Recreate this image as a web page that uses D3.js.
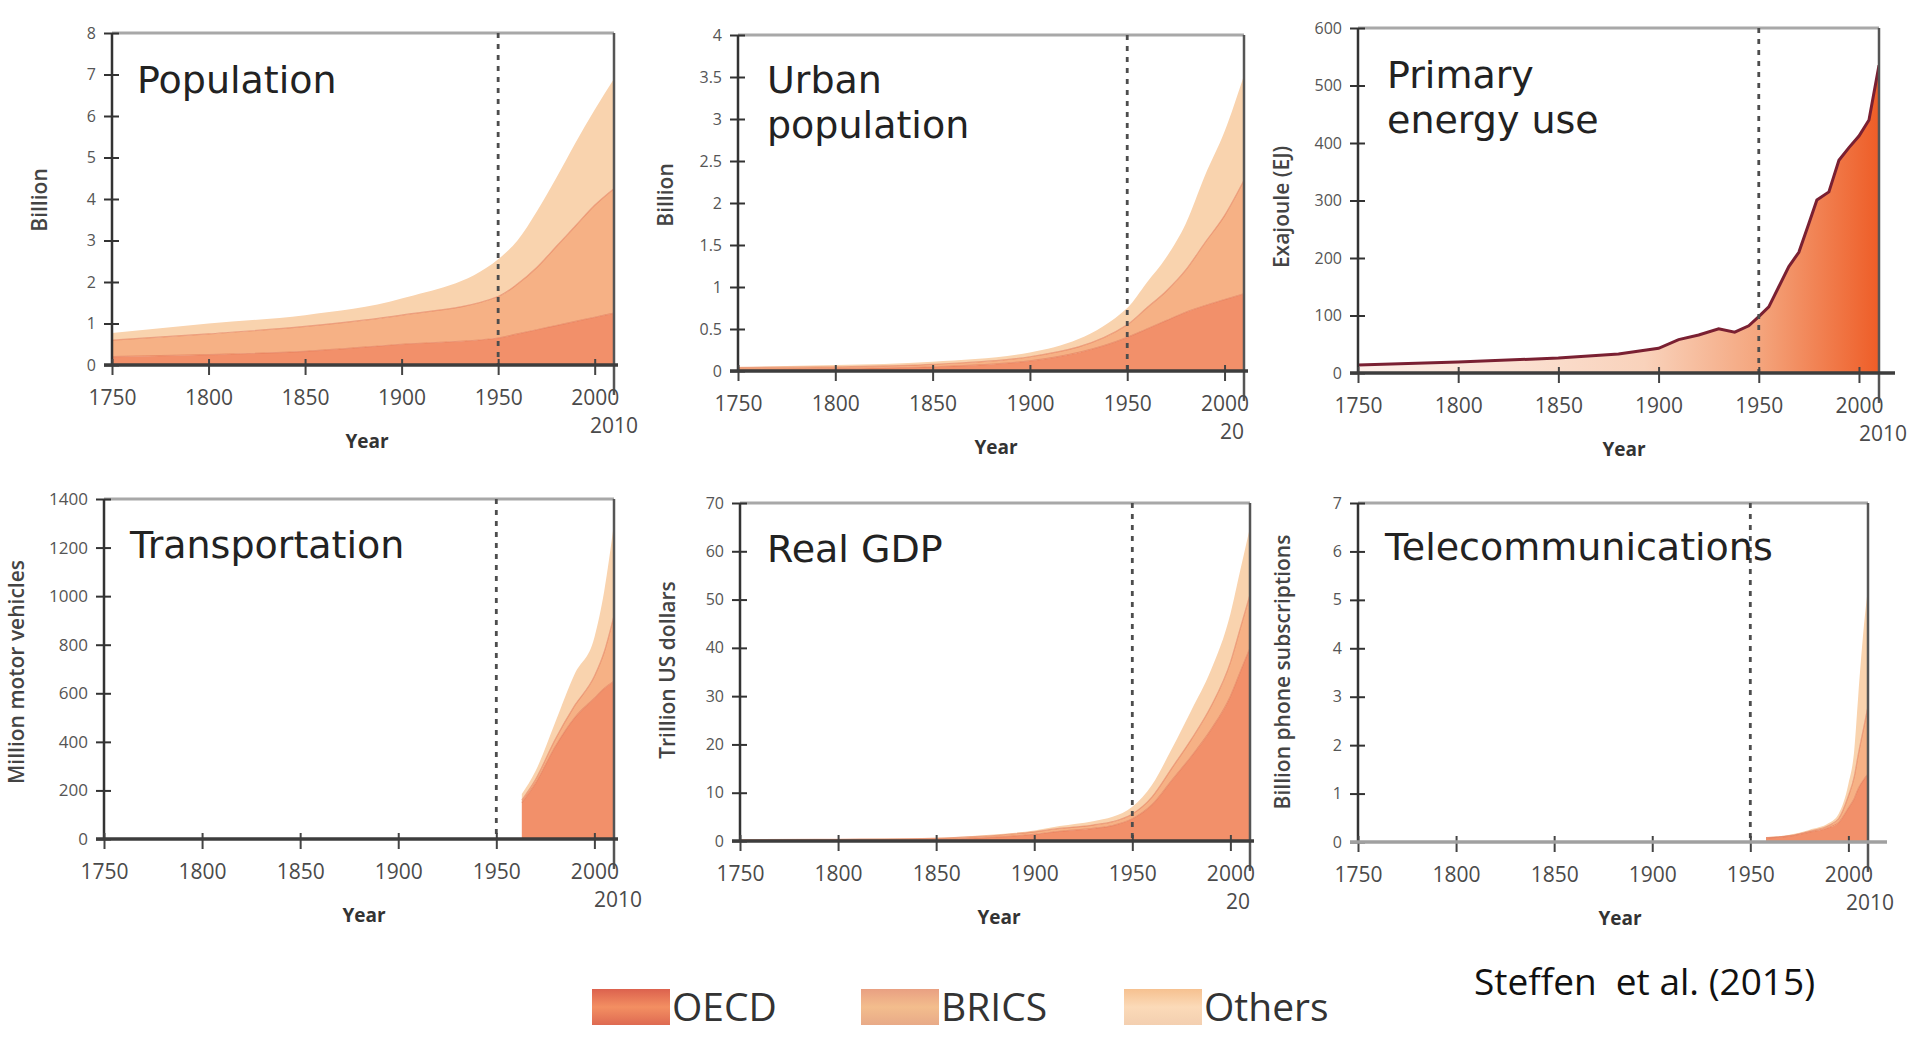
<!DOCTYPE html>
<html>
<head>
<meta charset="utf-8">
<script src="https://cdn.jsdelivr.net/npm/d3@7"></script>
<style>
  body { margin: 0; background: #fff; }
  svg { display: block; }
  text { font-family: "Open Sans", "Noto Sans", sans-serif; }
  text.title { font-family: "DejaVu Sans", sans-serif; }
</style>
</head>
<body>
<div id="chart"></div>
<script>
var xTicks = [1750, 1800, 1850, 1900, 1950, 2000];
var groups = ["OECD", "BRICS", "Others"];

// Population, billion
var popYears  = [1750, 1800, 1850, 1900, 1950, 1960, 1970, 1980, 1990, 2000, 2010];
var popOECD   = [0.20, 0.25, 0.33, 0.50, 0.65, 0.75, 0.85, 0.95, 1.05, 1.15, 1.25];
var popBRICS  = [0.40, 0.50, 0.60, 0.70, 1.00, 1.20, 1.50, 1.90, 2.30, 2.70, 3.00];
var popOthers = [0.17, 0.25, 0.27, 0.40, 0.90, 1.05, 1.35, 1.65, 2.00, 2.30, 2.65];
var popTicks  = [0, 1, 2, 3, 4, 5, 6, 7, 8];

// Urban population, billion
var urbYears  = [1750, 1800, 1850, 1900, 1950, 1960, 1970, 1980, 1990, 2000, 2010];
var urbOECD   = [0.02, 0.03, 0.05, 0.12, 0.40, 0.50, 0.60, 0.70, 0.78, 0.85, 0.92];
var urbBRICS  = [0.02, 0.02, 0.03, 0.05, 0.15, 0.25, 0.35, 0.50, 0.75, 1.00, 1.35];
var urbOthers = [0.01, 0.02, 0.03, 0.05, 0.20, 0.30, 0.40, 0.55, 0.80, 1.00, 1.25];
var urbTicks  = [0, 0.5, 1, 1.5, 2, 2.5, 3, 3.5, 4];

// Primary energy use, EJ
var enYears = [1750, 1800, 1850, 1880, 1900, 1910, 1920, 1930, 1938, 1945, 1950, 1955, 1960, 1965, 1970, 1975, 1979, 1985, 1990, 1995, 2000, 2005, 2010];
var enVals  = [14, 19, 26, 33, 43, 58, 66, 77, 71, 82, 98, 115, 150, 185, 210, 260, 301, 315, 370, 392, 412, 440, 535];
var enTicks = [0, 100, 200, 300, 400, 500, 600];

// Transportation, million motor vehicles
var trYears  = [1963, 1970, 1980, 1990, 2000, 2005, 2010];
var trOECD   = [150, 230, 380, 500, 580, 620, 650];
var trBRICS  = [10, 15, 30, 50, 90, 150, 270];
var trOthers = [25, 35, 70, 130, 160, 250, 380];
var trTicks  = [0, 200, 400, 600, 800, 1000, 1200, 1400];

// Real GDP, trillion US dollars
var gdpYears  = [1750, 1800, 1850, 1870, 1900, 1913, 1930, 1940, 1950, 1960, 1970, 1980, 1990, 2000, 2005, 2010];
var gdpOECD   = [0.10, 0.15, 0.30, 0.60, 1.4, 2.0, 2.6, 3.2, 4.6, 7.5, 12.5, 17.5, 23, 30, 35, 40];
var gdpBRICS  = [0.15, 0.20, 0.25, 0.30, 0.5, 0.6, 0.7, 0.8, 1.0, 1.6, 2.5, 3.5, 4.8, 7, 9, 11];
var gdpOthers = [0.05, 0.05, 0.10, 0.20, 0.3, 0.5, 0.8, 1.0, 1.5, 2.5, 4.0, 6.0, 7.5, 10, 12, 14];
var gdpTicks  = [0, 10, 20, 30, 40, 50, 60, 70];

// Telecommunications, billion phone subscriptions
var telYears  = [1958, 1970, 1980, 1990, 1995, 2000, 2003, 2005, 2008, 2010];
var telOECD   = [0.08, 0.12, 0.20, 0.30, 0.40, 0.70, 0.90, 1.10, 1.30, 1.40];
var telBRICS  = [0.01, 0.01, 0.02, 0.04, 0.08, 0.25, 0.45, 0.70, 1.10, 1.40];
var telOthers = [0.01, 0.02, 0.03, 0.05, 0.10, 0.25, 0.55, 1.20, 2.10, 2.45];
var telTicks  = [0, 1, 2, 3, 4, 5, 6, 7];

var colors = { OECD: "#f2906a", BRICS: "#f6b185", Others: "#f9d3ae" };

var svg = d3.select("#chart").append("svg")
    .attr("width", 1915)
    .attr("height", 1041);

var defs = svg.append("defs");

function rows(years, a, b, c) {
    return years.map(function (yr, i) {
        return { year: yr, OECD: a[i], BRICS: b[i], Others: c[i] };
    });
}

function drawPanel(p) {
    var x = d3.scaleLinear().domain([1750, 2010]).range([p.left, p.right]);
    var y = d3.scaleLinear().domain([0, p.ymax]).range([p.zero, p.top]);
    var g = svg.append("g");

    var clipId = "clip" + p.id;
    defs.append("clipPath").attr("id", clipId)
        .append("rect")
        .attr("x", p.left).attr("y", p.top)
        .attr("width", p.right - p.left).attr("height", p.zero - p.top);

    var plot = g.append("g").attr("clip-path", "url(#" + clipId + ")");

    if (p.stack) {
        var series = d3.stack().keys(groups)(p.stack);
        var area = d3.area()
            .curve(d3.curveMonotoneX)
            .x(function (d) { return x(d.data.year); })
            .y0(function (d) { return y(d[0]); })
            .y1(function (d) { return y(d[1]); });
        plot.selectAll("path.layer")
            .data(series)
            .enter().append("path")
            .attr("class", "layer")
            .attr("fill", function (d) { return colors[d.key]; })
            .attr("d", area);
        // thin boundaries between the groups
        var edge = d3.line()
            .curve(d3.curveMonotoneX)
            .x(function (d) { return x(d.data.year); })
            .y(function (d) { return y(d[1]); });
        plot.selectAll("path.edge")
            .data(series.slice(0, 2))
            .enter().append("path")
            .attr("class", "edge")
            .attr("fill", "none")
            .attr("stroke", "#e27a58")
            .attr("stroke-opacity", 0.6)
            .attr("stroke-width", 1.2)
            .attr("d", edge);
    }

    if (p.line) {
        var gradId = "grad" + p.id;
        var grad = defs.append("linearGradient").attr("id", gradId)
            .attr("gradientUnits", "userSpaceOnUse")
            .attr("x1", x(1750)).attr("x2", x(2010)).attr("y1", 0).attr("y2", 0);
        grad.append("stop").attr("offset", "0%").attr("stop-color", "#fdf1ec");
        grad.append("stop").attr("offset", "55%").attr("stop-color", "#f9d2bb");
        grad.append("stop").attr("offset", "77%").attr("stop-color", "#f4a57d");
        grad.append("stop").attr("offset", "100%").attr("stop-color", "#ee5d27");
        var data = p.line.years.map(function (yr, i) { return { year: yr, v: p.line.vals[i] }; });
        plot.append("path")
            .datum(data)
            .attr("fill", "url(#" + gradId + ")")
            .attr("d", d3.area()
                .x(function (d) { return x(d.year); })
                .y0(y(0))
                .y1(function (d) { return y(d.v); }));
        plot.append("path")
            .datum(data)
            .attr("fill", "none")
            .attr("stroke", "#7a2032")
            .attr("stroke-width", 3)
            .attr("d", d3.line()
                .x(function (d) { return x(d.year); })
                .y(function (d) { return y(d.v); }));
    }

    // frame
    g.append("line")
        .attr("x1", p.left).attr("x2", p.right)
        .attr("y1", p.top).attr("y2", p.top)
        .attr("stroke", "#a8a8a8").attr("stroke-width", 3);
    g.append("line")
        .attr("x1", p.right).attr("x2", p.right)
        .attr("y1", p.top).attr("y2", p.zero + 30)
        .attr("stroke", "#555").attr("stroke-width", 2.5);

    // 1950 marker
    g.append("line")
        .attr("x1", x(1950)).attr("x2", x(1950))
        .attr("y1", p.top).attr("y2", p.zero)
        .attr("stroke", "#4d4d4d")
        .attr("stroke-width", 2.8)
        .attr("stroke-dasharray", "5,6");

    // y axis
    var yAxis = g.append("g")
        .attr("transform", "translate(" + p.left + ",0)")
        .call(d3.axisLeft(y).tickValues(p.ticks).tickSize(8).tickPadding(8)
            .tickFormat(function (d) { return d; }));
    yAxis.select(".domain").remove();
    yAxis.selectAll(".tick line").attr("x1", 7).attr("stroke", "#333").attr("stroke-width", 2);
    yAxis.selectAll(".tick text")
        .attr("font-size", p.yFont || 16)
        .attr("fill", "#555");
    g.append("line")
        .attr("x1", p.left).attr("x2", p.left)
        .attr("y1", p.top).attr("y2", p.zero)
        .attr("stroke", "#333").attr("stroke-width", 2.5);

    // x axis
    var xAxis = g.append("g")
        .attr("transform", "translate(0," + p.zero + ")")
        .call(d3.axisBottom(x).tickValues(xTicks).tickSize(10).tickPadding(15)
            .tickFormat(d3.format("d")));
    xAxis.select(".domain").remove();
    xAxis.selectAll(".tick line").attr("y1", -6).attr("stroke", "#444").attr("stroke-width", 2);
    xAxis.selectAll(".tick text")
        .attr("font-size", 21)
        .attr("fill", "#4a4a4a");
    g.append("line")
        .attr("x1", p.left - 8).attr("x2", p.axisEnd || p.right + 4)
        .attr("y1", p.zero).attr("y2", p.zero)
        .attr("stroke", p.axisColor || "#3d3d3d").attr("stroke-width", 3.5);

    // 2010 label below the right edge
    var lab = g.append("text")
        .attr("x", x(2010) + (p.endDx || 0))
        .attr("y", p.zero + 68)
        .attr("text-anchor", "middle")
        .attr("font-size", 21)
        .attr("fill", "#4a4a4a")
        .text("2010");
    if (p.cutEnd) {
        defs.append("clipPath").attr("id", "cut" + p.id)
            .append("rect")
            .attr("x", p.left).attr("y", p.zero)
            .attr("width", p.cutEnd - p.left).attr("height", 100);
        lab.attr("clip-path", "url(#cut" + p.id + ")");
    }

    g.append("text")
        .attr("x", p.yearX)
        .attr("y", p.zero + 83)
        .attr("text-anchor", "middle")
        .attr("font-size", 19)
        .attr("font-weight", 700)
        .attr("fill", "#333")
        .text("Year");

    g.append("text")
        .attr("transform", "translate(" + p.yLabelX + "," + p.yLabelY + ") rotate(-90)")
        .attr("text-anchor", "middle")
        .attr("dominant-baseline", "middle")
        .attr("font-size", 21)
        .attr("font-weight", 600)
        .attr("fill", "#444")
        .text(p.yLabel);

    // panel title, one text per line
    p.title.forEach(function (t, i) {
        g.append("text")
            .attr("class", "title")
            .attr("x", p.titleX)
            .attr("y", p.titleY + i * 45)
            .attr("font-size", 38)
            .attr("fill", "#222")
            .text(t);
    });
}

drawPanel({
    id: 1, left: 112, right: 614, top: 33, zero: 365, ymax: 8, ticks: popTicks,
    stack: rows(popYears, popOECD, popBRICS, popOthers),
    title: ["Population"], titleX: 137, titleY: 93,
    yLabel: "Billion", yLabelX: 41, yLabelY: 200, yearX: 367
});

drawPanel({
    id: 2, left: 738, right: 1244, top: 35, zero: 371, ymax: 4, ticks: urbTicks,
    stack: rows(urbYears, urbOECD, urbBRICS, urbOthers),
    title: ["Urban", "population"], titleX: 767, titleY: 93,
    yLabel: "Billion", yLabelX: 667, yLabelY: 195, yearX: 996, cutEnd: 1245
});

drawPanel({
    id: 3, left: 1358, right: 1879, top: 28, zero: 373, ymax: 600, ticks: enTicks,
    line: { years: enYears, vals: enVals },
    title: ["Primary", "energy use"], titleX: 1387, titleY: 88, axisEnd: 1895, endDx: 4,
    yLabel: "Exajoule (EJ)", yLabelX: 1283, yLabelY: 207, yearX: 1624
});

drawPanel({
    id: 4, left: 104, right: 614, top: 499, zero: 839, ymax: 1400, ticks: trTicks, yFont: 17,
    stack: rows(trYears, trOECD, trBRICS, trOthers),
    title: ["Transportation"], titleX: 130, titleY: 558,
    yLabel: "Million motor vehicles", yLabelX: 18, yLabelY: 672, yearX: 364, endDx: 4
});

drawPanel({
    id: 5, left: 740, right: 1250, top: 503, zero: 841, ymax: 70, ticks: gdpTicks,
    stack: rows(gdpYears, gdpOECD, gdpBRICS, gdpOthers),
    title: ["Real GDP"], titleX: 767, titleY: 562,
    yLabel: "Trillion US dollars", yLabelX: 669, yLabelY: 670, yearX: 999, cutEnd: 1251
});

drawPanel({
    id: 6, left: 1358, right: 1868, top: 503, zero: 842, ymax: 7, ticks: telTicks,
    stack: rows(telYears, telOECD, telBRICS, telOthers),
    title: ["Telecommunications"], titleX: 1385, titleY: 560, axisEnd: 1887, axisColor: "#a0a0a0",
    yLabel: "Billion phone subscriptions", yLabelX: 1284, yLabelY: 672, yearX: 1620, endDx: 2
});

// ---- legend ----
var swatchStops = {
    OECD:   ["#dc624e", "#f38f62", "#de6a52"],
    BRICS:  ["#e9a082", "#f3bd8d", "#e8aa88"],
    Others: ["#f6c190", "#fbdab8", "#f3cfb0"]
};
var legendX = [592, 861, 1124];
var legend = svg.append("g");
groups.forEach(function (k, i) {
    var gid = "sw" + k;
    var lg = defs.append("linearGradient").attr("id", gid)
        .attr("x1", 0).attr("x2", 0).attr("y1", 0).attr("y2", 1);
    swatchStops[k].forEach(function (c, j) {
        lg.append("stop").attr("offset", (j * 50) + "%").attr("stop-color", c);
    });
    legend.append("rect")
        .attr("x", legendX[i]).attr("y", 989)
        .attr("width", 78).attr("height", 36)
        .attr("fill", "url(#" + gid + ")");
    legend.append("text")
        .attr("x", legendX[i] + 80).attr("y", 1021)
        .attr("font-size", 39)
        .attr("fill", "#333")
        .text(k);
});

svg.append("text")
    .attr("x", 1474).attr("y", 995)
    .attr("font-size", 37)
    .attr("fill", "#111")
    .style("white-space", "pre")
    .text("Steffen  et al. (2015)");
</script>
</body>
</html>
